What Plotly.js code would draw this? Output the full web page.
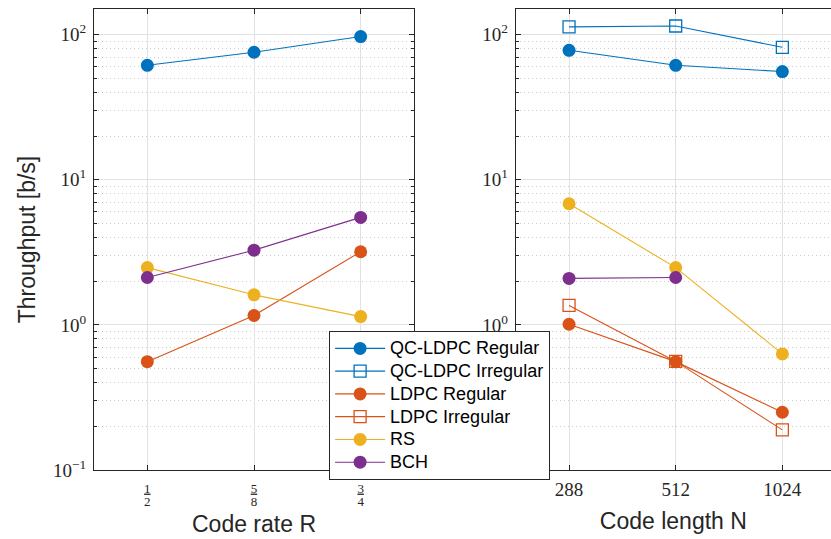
<!DOCTYPE html>
<html><head><meta charset="utf-8">
<script src="https://cdn.plot.ly/plotly-3.0.1.min.js"></script>
<style>html,body{margin:0;padding:0;background:#fff}</style>
</head><body><div id="plot" style="width:831px;height:539px"></div>
<script>
// Left panel: code rate R (fractions: numerators / denominators)
const rateNum = ['1', '5', '3'];
const rateDen = ['2', '8', '4'];
const rateX = [1, 2, 3];
const rateQCReg = [61.4, 75.5, 96.9];
const rateLDPCReg = [0.558, 1.16, 3.19];
const rateRS = [2.48, 1.61, 1.14];
const rateBCH = [2.12, 3.27, 5.5];

// Right panel: code length N
const lenLabels = ['288', '512', '1024'];
const lenX = [1, 2, 3];
const lenQCReg = [77.9, 61.4, 55.6];
const lenQCIrr = [113, 114.5, 81.7];
const lenLDPCReg = [1.01, 0.558, 0.25];
const lenLDPCIrr = [1.36, 0.56, 0.189];
const lenRS = [6.83, 2.48, 0.631];
const lenBCH = [2.09, 2.12];

const yTickVals = [0.1, 1, 10, 100];
const yTickText = ['10<sup>−1</sup>', '10<sup>0</sup>', '10<sup>1</sup>', '10<sup>2</sup>'];

const C = {blue:'#0072BD', orange:'#D95319', yellow:'#EDB120', purple:'#7E2F8E'};
const filled = (c) => ({symbol:'circle', size:13, color:c});
const open = (c) => ({symbol:'square-open', size:12, color:c, line:{width:1.3, color:c}});
const ln = (c) => ({color:c, width:1.1});
const lg = (s) => '<span style="font-size:18px">' + s + '</span>';

const traces = [
  {x:rateX, y:rateQCReg, name:lg('QC-LDPC Regular'), mode:'lines+markers', marker:filled(C.blue), line:ln(C.blue), xaxis:'x', yaxis:'y'},
  {x:lenX, y:lenQCReg, name:lg('QC-LDPC Regular'), mode:'lines+markers', marker:filled(C.blue), line:ln(C.blue), xaxis:'x2', yaxis:'y2', showlegend:false},
  {x:lenX, y:lenQCIrr, name:lg('QC-LDPC Irregular'), mode:'lines+markers', marker:open(C.blue), line:ln(C.blue), xaxis:'x2', yaxis:'y2'},
  {x:rateX, y:rateLDPCReg, name:lg('LDPC Regular'), mode:'lines+markers', marker:filled(C.orange), line:ln(C.orange), xaxis:'x', yaxis:'y'},
  {x:lenX, y:lenLDPCReg, name:lg('LDPC Regular'), mode:'lines+markers', marker:filled(C.orange), line:ln(C.orange), xaxis:'x2', yaxis:'y2', showlegend:false},
  {x:lenX, y:lenLDPCIrr, name:lg('LDPC Irregular'), mode:'lines+markers', marker:open(C.orange), line:ln(C.orange), xaxis:'x2', yaxis:'y2'},
  {x:rateX, y:rateRS, name:lg('RS'), mode:'lines+markers', marker:filled(C.yellow), line:ln(C.yellow), xaxis:'x', yaxis:'y'},
  {x:lenX, y:lenRS, name:lg('RS'), mode:'lines+markers', marker:filled(C.yellow), line:ln(C.yellow), xaxis:'x2', yaxis:'y2', showlegend:false},
  {x:rateX, y:rateBCH, name:lg('BCH'), mode:'lines+markers', marker:filled(C.purple), line:ln(C.purple), xaxis:'x', yaxis:'y'},
  {x:lenX.slice(0, lenBCH.length), y:lenBCH, name:lg('BCH'), mode:'lines+markers', marker:filled(C.purple), line:ln(C.purple), xaxis:'x2', yaxis:'y2', showlegend:false},
  // invisible carrier so the denominator axis (x3) is drawn
  {x:rateX, y:rateBCH, mode:'markers', marker:{opacity:0, color:C.purple}, xaxis:'x3', yaxis:'y', showlegend:false, hoverinfo:'skip'}
];

const axColor = '#262626';
const serifFam = 'Liberation Serif, DejaVu Serif, serif';
const serif = {family:serifFam, size:19, color:axColor};
const sans = 'Liberation Sans, Arial, sans-serif';
const titleFont = {family:sans, size:23, color:axColor};

function yAxis(extra) {
  return Object.assign({
    type:'log', range:[-1, Math.log10(150)], tickmode:'array', tickvals:yTickVals, ticktext:yTickText,
    ticks:'inside', ticklen:5, tickcolor:axColor, showline:true, linecolor:axColor, linewidth:1,
    showgrid:true, gridcolor:'#e2e2e2', gridwidth:1, zeroline:false, tickfont:serif, ticklabelstandoff:3,
    minor:{dtick:'D1', ticks:'inside', ticklen:3, tickcolor:axColor, showgrid:true, gridcolor:'#cdcdcd', griddash:'1px,3px', gridwidth:1}
  }, extra);
}
function xAxis(extra) {
  return Object.assign({
    tickmode:'array', tickvals:rateX, ticks:'inside', ticklen:5, tickcolor:axColor,
    showline:true, linecolor:axColor, linewidth:1, mirror:'ticks',
    showgrid:true, gridcolor:'#e2e2e2', gridwidth:1, zeroline:false
  }, extra);
}

const layout = {
  width:831, height:539,
  margin:{l:94, r:0, t:9, b:69},
  paper_bgcolor:'#fff', plot_bgcolor:'#fff',
  showlegend:true,
  legend:{x:0.319, y:0.3015, xanchor:'left', yanchor:'top', bgcolor:'#fff', bordercolor:axColor, borderwidth:1,
    font:{family:sans, size:15.2, color:'#000'}, tracegroupgap:0, itemwidth:50},
  xaxis:xAxis({domain:[0, 0.4342], range:[0.5, 3.5],
    ticktext:rateNum.map(s => '<span style="text-decoration:underline">' + s + '</span>'),
    tickfont:{family:serifFam, size:13, color:axColor}, ticklabelstandoff:6, anchor:'y',
    title:{text:'Code rate R', font:titleFont, standoff:21}}),
  xaxis3:{domain:[0, 0.4342], range:[0.5, 3.5], overlaying:'x', anchor:'y', side:'bottom',
    tickmode:'array', tickvals:rateX, ticktext:rateDen, ticks:'', showline:false, showgrid:false, zeroline:false,
    tickfont:{family:serifFam, size:13, color:axColor}, ticklabelstandoff:22},
  yaxis:yAxis({domain:[0,1], anchor:'x', mirror:'ticks',
    title:{text:'Throughput [b/s]', font:titleFont, standoff:10}}),
  xaxis2:xAxis({domain:[0.5722, 1], range:[0.5, 3.456], ticktext:lenLabels, tickfont:serif, ticklabelstandoff:2,
    title:{text:'Code length N', font:titleFont, standoff:14}, anchor:'y2'}),
  yaxis2:yAxis({domain:[0,1], anchor:'x2', mirror:false})
};

Plotly.newPlot('plot', traces, layout, {displayModeBar:false, staticPlot:true});
</script></body></html>
